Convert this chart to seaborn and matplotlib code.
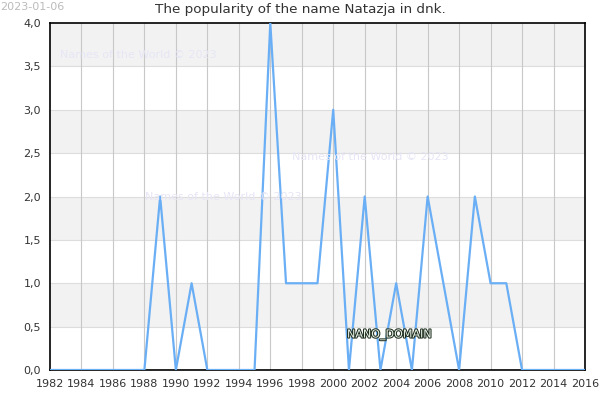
import matplotlib
matplotlib.use("Agg")
from matplotlib import pyplot as plt
import matplotlib.patheffects as pe
import pandas as pd
import seaborn as sns

years = list(range(1982, 2017))
counts = [0, 0, 0, 0, 0, 0, 0, 2, 0, 1, 0, 0, 0, 0, 4, 1, 1, 1, 3, 0,
          2, 0, 1, 0, 2, 1, 0, 2, 1, 1, 0, 0, 0, 0, 0]
x_ticks = list(range(1982, 2017, 2))
y_ticks = [0.0, 0.5, 1.0, 1.5, 2.0, 2.5, 3.0, 3.5, 4.0]

df = pd.DataFrame({"year": years, "count": counts})

sns.set_style("white")
plt.rcParams['font.family'] = ['DejaVu Sans']

fig = plt.figure(figsize=(6, 4), dpi=100)
ax = fig.add_axes([0.0833, 0.075, 0.8917, 0.8675])

# alternating horizontal bands
for i in range(len(y_ticks) - 1):
    if i % 2 == 1:
        ax.axhspan(y_ticks[i], y_ticks[i + 1], color='#f2f2f2', zorder=0, lw=0)
for y in y_ticks[1:-1]:
    ax.axhline(y, color='#dddddd', lw=0.8, zorder=1)
for x in x_ticks[1:-1]:
    ax.axvline(x, color='#c8c8c8', lw=0.8, zorder=1)

sns.lineplot(data=df, x="year", y="count", ax=ax, color='#6aaff5', lw=1.6, zorder=3)

ax.set_xlim(1982, 2016)
ax.set_ylim(0, 4)
ax.set_xticks(x_ticks)
ax.set_yticks(y_ticks)
ax.set_yticklabels([f"{v:.1f}".replace('.', ',') for v in y_ticks])
ax.tick_params(labelsize=8, colors='#333333', length=3)
ax.set_xlabel('')
ax.set_ylabel('')
for s in ax.spines.values():
    s.set_color('black')
    s.set_linewidth(1.2)

fig.text(0.5, 1 - 10 / 400, "The popularity of the name Natazja in dnk.", fontsize=9.7,
         color='#333333', ha='center', va='center')

fig.text(0.0, 0.995, "2023-01-06", fontsize=8, color='#bbbbbb', va='top', ha='left')
for (tx, ty) in [(60, 55), (292, 157), (145, 197)]:
    fig.text(tx / 600, 1 - ty / 400, "Names of the World \u00a9 2023", fontsize=8,
             color='#e6e6f6', va='center', ha='left')
t = fig.text(347 / 600, 1 - 335 / 400, "NANO_DOMAIN", fontsize=8, color='#e8f0e8',
             va='center', ha='left')
t.set_path_effects([pe.withStroke(linewidth=1.5, foreground='#203020')])

fig.savefig("out.png", dpi=100)
